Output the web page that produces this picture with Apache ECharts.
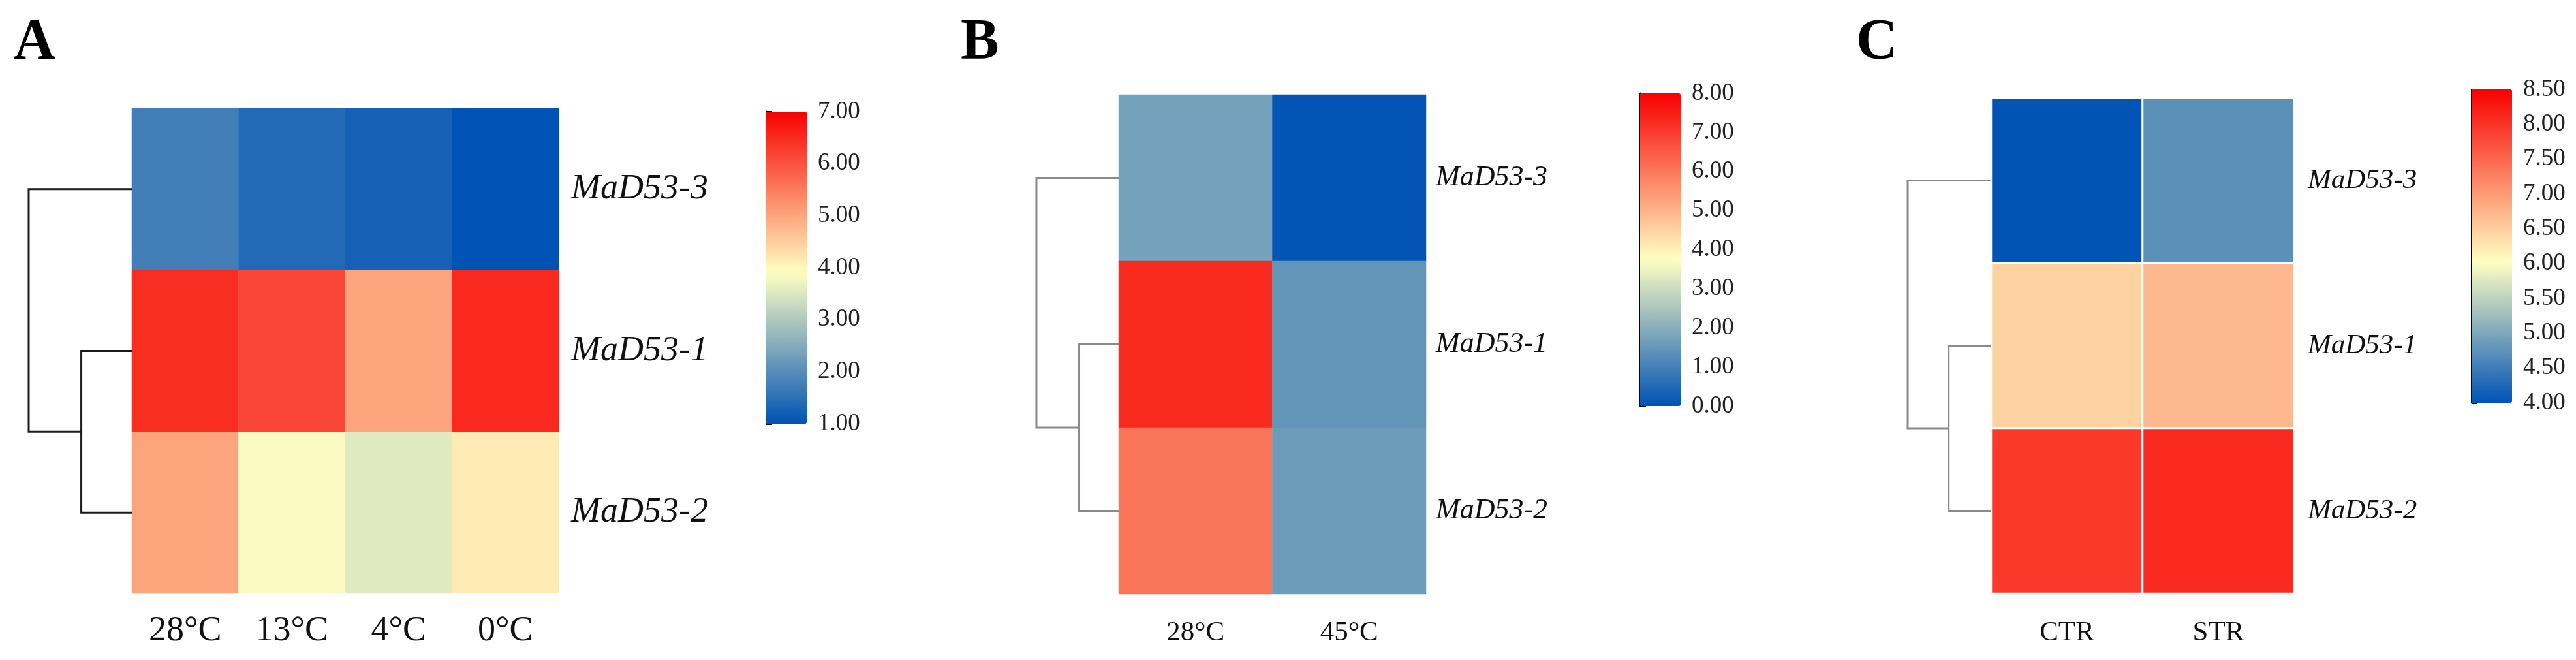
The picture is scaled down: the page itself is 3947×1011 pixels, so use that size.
<!DOCTYPE html>
<html>
<head>
<meta charset="utf-8">
<script src="https://cdn.jsdelivr.net/npm/echarts@6/dist/echarts.min.js"></script>
<style>
  html, body { margin: 0; padding: 0; background: #fff; }
  #chart { width: 3947px; height: 1011px; }
</style>
</head>
<body>
<div id="chart"></div>
<script>
// rows, top to bottom (same order in all three panels)
const genes = ['MaD53-3', 'MaD53-1', 'MaD53-2'];

// A - cold series
const tempsA = ['28°C', '13°C', '4°C', '0°C'];
const valsA = [
  [1.75, 1.40, 1.25, 1.00],
  [6.45, 6.15, 5.00, 6.50],
  [5.00, 3.85, 3.55, 4.15]
];
// B - heat
const tempsB = ['28°C', '45°C'];
const valsB = [
  [1.70, 0.05],
  [7.30, 1.45],
  [6.05, 1.60]
];
// C - control / stress
const treatC = ['CTR', 'STR'];
const valsC = [
  [4.02, 4.72],
  [6.45, 6.70],
  [7.95, 8.10]
];

// colour bar scales: [min, max, step]
const scaleA = [1, 7, 1];
const scaleB = [0, 8, 1];
const scaleC = [4, 8.5, 0.5];

// dendrogram merge heights: (MaD53-1, MaD53-2), then + MaD53-3
const treeA = [0.49, 1];
const treeB = [0.48, 1];
const treeC = [0.51, 1];

const SERIF = '"Liberation Serif", "Times New Roman", serif';
const LOW = [0, 82, 180], MID = [255, 255, 194], HIGH = [248, 0, 0];

// three-stop ramp, yellow placed at `mid` (0..1)
function ramp(mid, n) {
  const mix = (a, b, t) => 'rgb(' + a.map((v, i) => Math.round(v + (b[i] - v) * t)).join(',') + ')';
  const out = [];
  for (let i = 0; i < n; i++) {
    const s = i / (n - 1);
    out.push(s < mid ? mix(LOW, MID, s / mid) : mix(MID, HIGH, (s - mid) / (1 - mid)));
  }
  return out;
}

const panels = [
  { label: 'A', cols: tempsA, vals: valsA, scale: scaleA, tree: treeA, mid: 0.485,
    heat: { left: 202, top: 166, width: 654, height: 743 }, treeLeft: 44,
    bar: { left: 1174, top: 171, width: 62, height: 478 },
    rowFont: 54, colFont: 54, rowMargin: 19, colMargin: 31, border: 0,
    treeColor: '#1a1a1a', letterX: 21 },
  { label: 'B', cols: tempsB, vals: valsB, scale: scaleB, tree: treeB, mid: 0.47,
    heat: { left: 1714, top: 145, width: 471, height: 765 }, treeLeft: 1588,
    bar: { left: 2513, top: 143, width: 62, height: 479 },
    rowFont: 44, colFont: 43, rowMargin: 15, colMargin: 38, border: 0,
    treeColor: '#8a8a8a', letterX: 1472 },
  { label: 'C', cols: treatC, vals: valsC, scale: scaleC, tree: treeC, mid: 0.45,
    heat: { left: 3051, top: 150, width: 464, height: 759 }, treeLeft: 2923,
    bar: { left: 3787, top: 137, width: 62, height: 480 },
    rowFont: 43, colFont: 43, rowMargin: 21, colMargin: 39, border: 3,
    treeColor: '#8a8a8a', letterX: 2844 }
];

const grid = [], xAxis = [], yAxis = [], series = [], visualMap = [], graphic = [];

panels.forEach((p, i) => {
  const g = i * 3;
  // heatmap grid
  grid.push({ left: p.heat.left, top: p.heat.top, width: p.heat.width, height: p.heat.height, outerBoundsMode: 'none' });
  // dendrogram grid
  grid.push({ left: p.treeLeft, top: p.heat.top, width: p.heat.left - p.treeLeft, height: p.heat.height, outerBoundsMode: 'none' });
  // colour bar axis grid
  grid.push({ left: p.bar.left, top: p.bar.top, width: p.bar.width, height: p.bar.height, outerBoundsMode: 'none' });

  xAxis.push({
    type: 'category', gridIndex: g, data: p.cols, position: 'bottom',
    axisLine: { show: false }, axisTick: { show: false }, splitLine: { show: false },
    axisLabel: { fontFamily: SERIF, fontSize: p.colFont, color: '#111', margin: p.colMargin }
  });
  yAxis.push({
    type: 'category', gridIndex: g, data: genes, inverse: true, position: 'right',
    axisLine: { show: false }, axisTick: { show: false }, splitLine: { show: false },
    axisLabel: { fontFamily: SERIF, fontStyle: 'italic', fontSize: p.rowFont, color: '#111', margin: p.rowMargin }
  });

  xAxis.push({ type: 'value', gridIndex: g + 1, min: 0, max: 1, inverse: true, show: false });
  yAxis.push({ type: 'value', gridIndex: g + 1, min: -0.5, max: 2.5, inverse: true, show: false });

  xAxis.push({ type: 'value', gridIndex: g + 2, min: 0, max: 1, show: false });
  yAxis.push({
    type: 'value', gridIndex: g + 2, position: 'right',
    min: p.scale[0], max: p.scale[1], interval: p.scale[2],
    axisLine: { show: true, lineStyle: { color: '#000', width: 3 } },
    axisTick: { show: true, length: 9, lineStyle: { color: '#000', width: 3 } },
    splitLine: { show: false },
    axisLabel: { fontFamily: SERIF, fontSize: 37, color: '#222', margin: 17,
                 formatter: v => v.toFixed(2) }
  });

  const data = [];
  p.vals.forEach((row, r) => row.forEach((v, c) => data.push([c, r, v])));
  series.push({
    type: 'heatmap', xAxisIndex: g, yAxisIndex: g, data: data,
    itemStyle: { borderColor: '#fff', borderWidth: p.border },
    emphasis: { disabled: true }
  });

  visualMap.push({
    type: 'continuous', seriesIndex: i, min: p.scale[0], max: p.scale[1],
    calculable: false, hoverLink: false, orient: 'vertical', padding: 0,
    left: p.bar.left, top: p.bar.top, itemWidth: p.bar.width, itemHeight: p.bar.height,
    inRange: { color: ramp(p.mid, 41) }
  });

  graphic.push({
    type: 'text', left: p.letterX, top: 22,
    style: { text: p.label, font: 'bold 88px ' + SERIF, fill: '#000' }
  });
});

// dendrograms, drawn through the dendrogram grids' scales
panels.forEach((p, i) => {
  const g = i * 3 + 1;
  series.push({
    type: 'custom', xAxisIndex: g, yAxisIndex: g, silent: true,
    data: [p.tree],
    renderItem: (params, api) => {
      const h1 = api.value(0), h2 = api.value(1);
      const pt = (x, y) => api.coord([x, y]);
      const style = { stroke: p.treeColor, lineWidth: 3, fill: null };
      return {
        type: 'group',
        children: [
          { type: 'polyline', shape: { points: [pt(0, 1), pt(h1, 1), pt(h1, 2), pt(0, 2)] }, style: style },
          { type: 'polyline', shape: { points: [pt(0, 0), pt(h2, 0), pt(h2, 1.5), pt(h1, 1.5)] }, style: style }
        ]
      };
    }
  });
});

const chart = echarts.init(document.getElementById('chart'));
chart.setOption({
  backgroundColor: '#fff',
  animation: false,
  grid: grid,
  xAxis: xAxis,
  yAxis: yAxis,
  visualMap: visualMap,
  series: series,
  graphic: graphic
});
</script>
</body>
</html>
